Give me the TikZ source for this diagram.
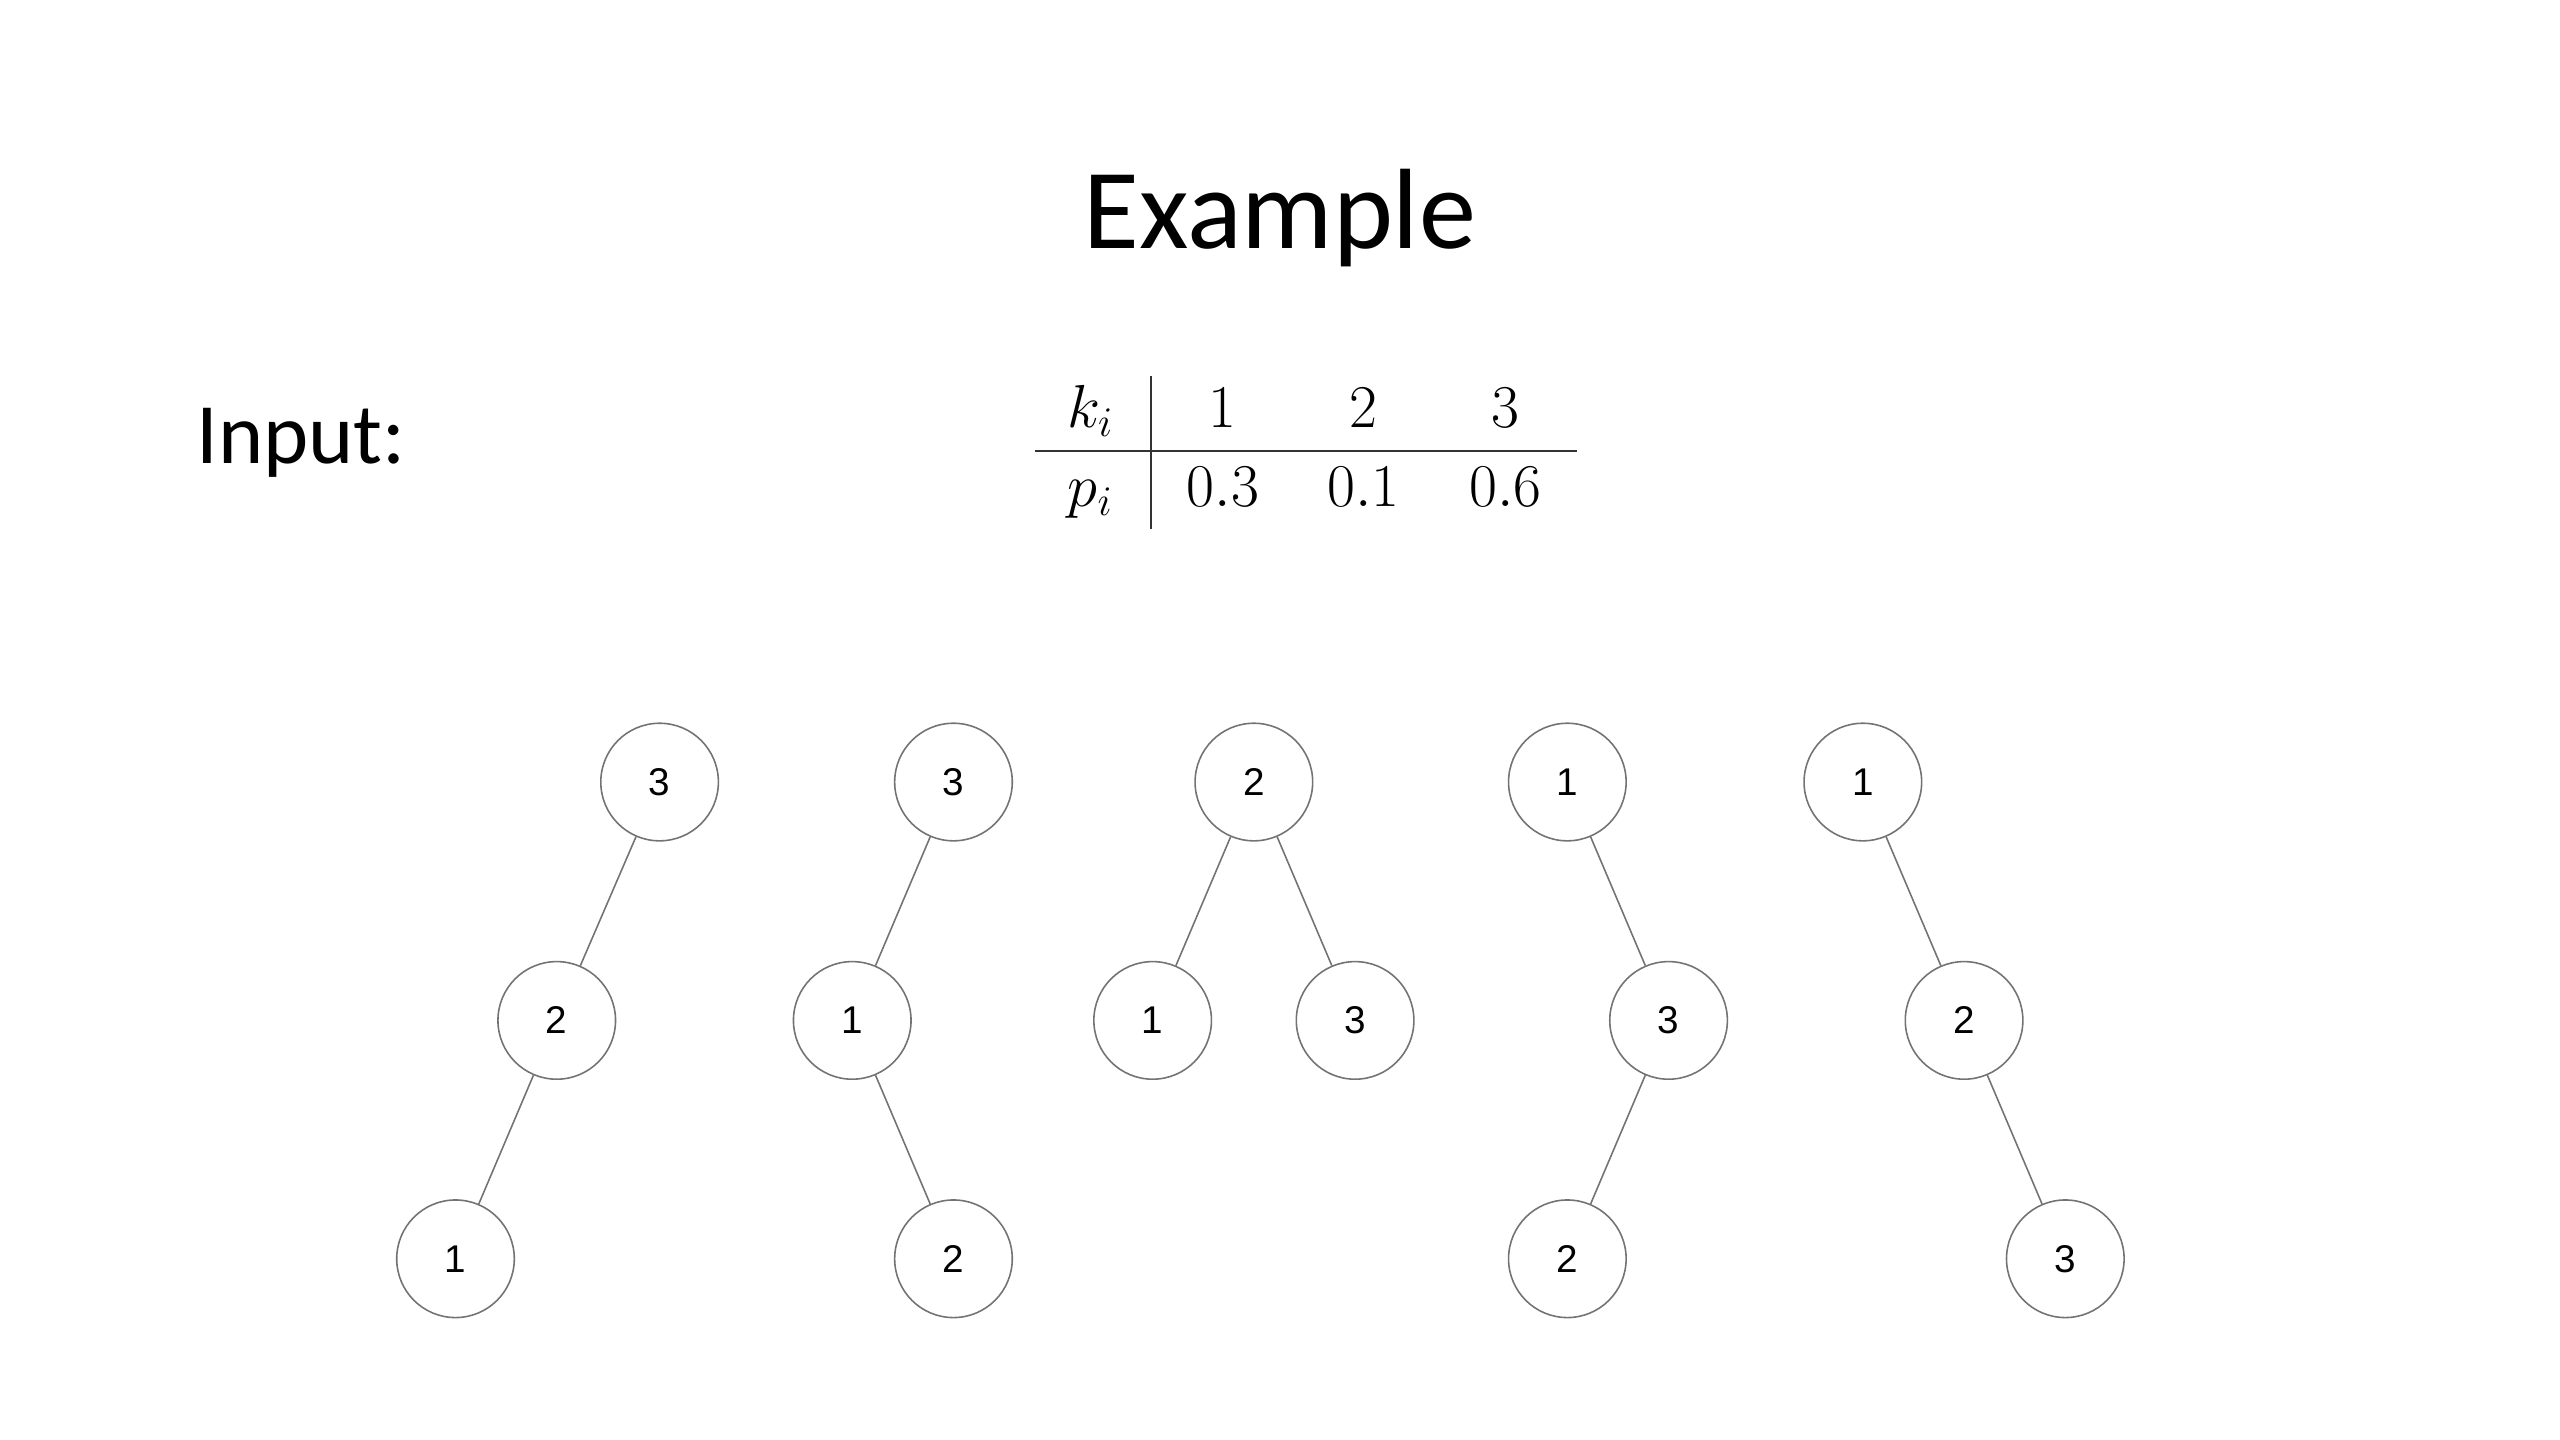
\documentclass[tikz,border=0pt]{standalone}
\usepackage[no-math]{fontspec}
\setmainfont{Carlito}
\newfontfamily\keyfont{Liberation Sans}
\usepackage{tikz}
\tikzset{
	key node/.style={
		circle,
		draw=black!55,
		line width=0.45pt,
		inner sep=0pt,
		minimum size=1.176cm,
		font=\keyfont\fontsize{11}{13}\selectfont
	},
	tree edge/.style={
		draw=black!55,
		line width=0.45pt
	},
	cell/.style={
		anchor=base,
		inner sep=0pt,
		font=\fontsize{18}{22}\selectfont
	},
}

\begin{document}
\begin{tikzpicture}[x=0.016327cm,y=-0.016327cm]
\useasboundingbox (0,0) rectangle (1568,882);

\node[anchor=base,font=\fontsize{32.5}{38}\selectfont] (title) at (784,152) {Example};
\node[anchor=base west,inner sep=0pt,font=\fontsize{24.5}{28}\selectfont] (input) at (120,284) {Input:};

% table of keys and probabilities
\node[cell] (kHead) at (668,262) {$k_i$};
	\node[cell] (kOne) at (749,262) {$1$};
	\node[cell] (kTwo) at (835,262) {$2$};
	\node[cell] (kThree) at (922,262) {$3$};
\node[cell] (pHead) at (668,310) {$p_i$};
	\node[cell] (pOne) at (749,310) {$0.3$};
	\node[cell] (pTwo) at (835,310) {$0.1$};
	\node[cell] (pThree) at (922,310) {$0.6$};
\coordinate (ruleTop) at (705,230);
\coordinate (ruleBottom) at (705,324);
\coordinate (ruleLeft) at (634,276);
\coordinate (ruleRight) at (966,276);
\draw[line width=0.6pt,black!80] (ruleTop) -- (ruleBottom);
\draw[line width=0.6pt,black!80] (ruleLeft) -- (ruleRight);

% the five search trees
\node[key node] (aRoot) at (404,479) {3};
	\node[key node] (aMid) at (341,625) {2};
		\node[key node] (aLeaf) at (279,771) {1};
\node[key node] (bRoot) at (584,479) {3};
	\node[key node] (bMid) at (522,625) {1};
		\node[key node] (bLeaf) at (584,771) {2};
\node[key node] (cRoot) at (768,479) {2};
	\node[key node] (cLeft) at (706,625) {1};
	\node[key node] (cRight) at (830,625) {3};
\node[key node] (dRoot) at (960,479) {1};
	\node[key node] (dMid) at (1022,625) {3};
		\node[key node] (dLeaf) at (960,771) {2};
\node[key node] (eRoot) at (1141,479) {1};
	\node[key node] (eMid) at (1203,625) {2};
		\node[key node] (eLeaf) at (1265,771) {3};

\draw[tree edge] (aRoot) -- (aMid);
\draw[tree edge] (aMid) -- (aLeaf);
\draw[tree edge] (bRoot) -- (bMid);
\draw[tree edge] (bMid) -- (bLeaf);
\draw[tree edge] (cRoot) -- (cLeft);
\draw[tree edge] (cRoot) -- (cRight);
\draw[tree edge] (dRoot) -- (dMid);
\draw[tree edge] (dMid) -- (dLeaf);
\draw[tree edge] (eRoot) -- (eMid);
\draw[tree edge] (eMid) -- (eLeaf);
\end{tikzpicture}
\end{document}
